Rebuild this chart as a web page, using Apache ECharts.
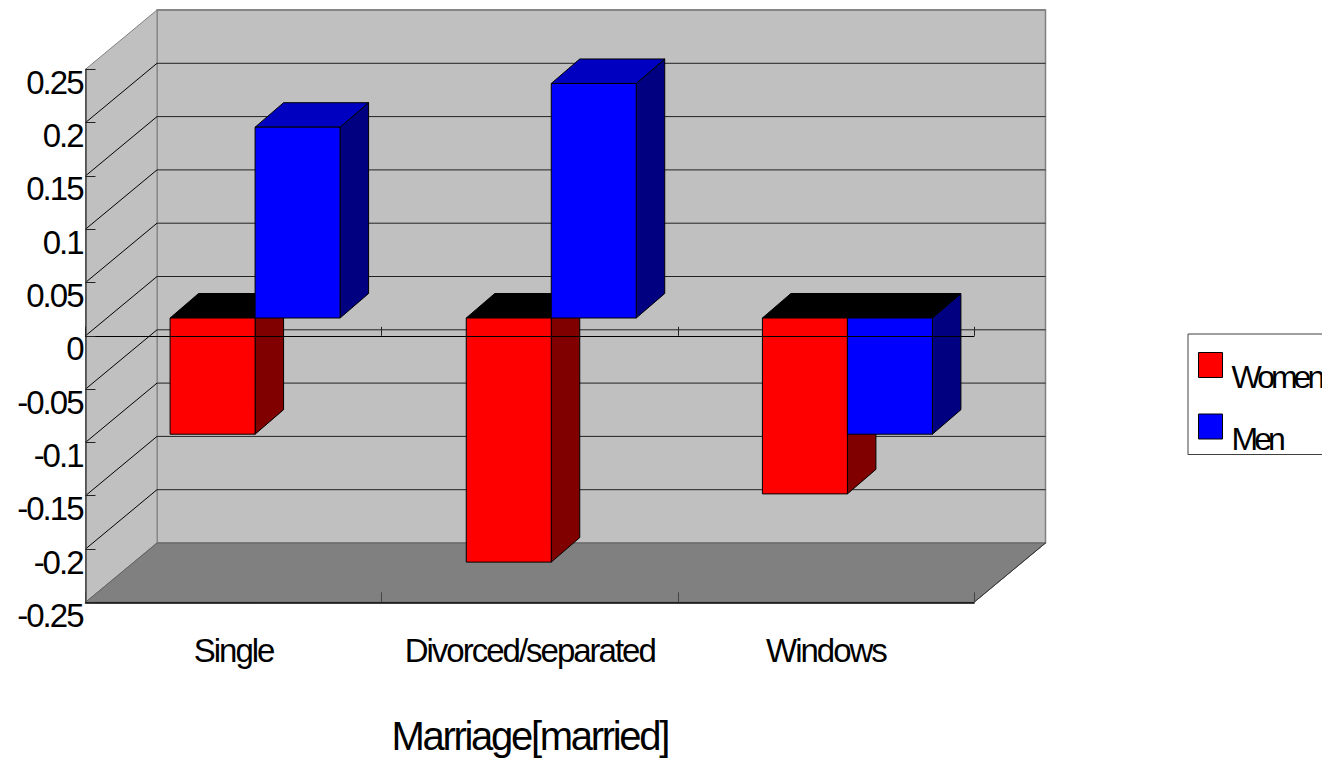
<!DOCTYPE html>
<html>
<head>
<meta charset="utf-8">
<title>Marriage[married]</title>
<script src="https://cdn.jsdelivr.net/npm/echarts@6/dist/echarts.min.js"></script>
<style>
html,body{margin:0;padding:0;background:#fff;overflow:hidden}
#chart{width:1322px;height:761px}
/* the source renders its text squeezed together */
svg text{letter-spacing:-2px}
svg text[style*="40px"]{letter-spacing:-2.3px}
svg text[style*="32px"]{letter-spacing:-4px}
</style>
</head>
<body>
<div id="chart"></div>
<script>
var categories = ['Single', 'Divorced/separated', 'Windows']
var women = [-0.109, -0.229, -0.165]
var men = [0.179, 0.22, -0.109]
var yTicks = [0.25, 0.2, 0.15, 0.1, 0.05, 0, -0.05, -0.1, -0.15, -0.2, -0.25]

// fake 3d: how far the back wall and the bars are pushed, in px
var wallDx = 71.5, wallDy = -59.3
var barDx = 21.5, barDy = -17.8
var sideDx = 28.5, sideDy = -24.5
var barShare = 0.287
var font = '"Liberation Sans", Arial, sans-serif'

function poly(points, fill, stroke, lineWidth){
	return {
		type:'polygon',
		shape:{points:points},
		style:{fill:fill, stroke:stroke, lineWidth:lineWidth||1}
	}
}
function line(a, b, color, width){
	return {
		type:'line',
		shape:{x1:a[0], y1:a[1], x2:b[0], y2:b[1]},
		style:{stroke:color, lineWidth:width||1}
	}
}
function back(p){
	return [p[0]+wallDx, p[1]+wallDy]
}

function renderWalls(params, api){
	var children = []
	var band = api.size([1,0])[0]
	var xLeft = api.coord([0,0])[0]-band/2
	var xRight = api.coord([categories.length-1,0])[0]+band/2
	var yTop = api.coord([0,yTicks[0]])[1]
	var yBottom = api.coord([0,yTicks[yTicks.length-1]])[1]
	var fl = [xLeft,yTop], bl = [xLeft,yBottom], br = [xRight,yBottom], tr = [xRight,yTop]
	// back wall, left wall, floor
	children.push(poly([back(fl),back(tr),back(br),back(bl)],'#c0c0c0','#808080',1.5))
	children.push(poly([fl,back(fl),back(bl),bl],'#c0c0c0','#808080',1))
	children.push(poly([bl,back(bl),back(br),br],'#808080','#606060',1))
	yTicks.slice(1,-1).forEach(function(v){
		var y = api.coord([0,v])[1]
		var a = [xLeft,y], b = back(a)
		children.push(line(a,b,'#000',1))
		children.push(line(b,[xRight+wallDx,y+wallDy],'#222',1))
	})
	children.push(line(back(fl),back(tr),'#808080',1.5))
	children.push(line(br,back(br),'#333',1))
	return {type:'group', children:children}
}

function barRenderer(first, front, side, top){
	return function(params, api){
		var zero = api.coord([api.value(0),0])
		var end = api.coord([api.value(0),api.value(1)])
		var band = api.size([1,0])[0]
		var x0 = zero[0]+barDx+(first ? -barShare*band : 0)
		var x1 = x0+barShare*band
		var y0 = zero[1]+barDy
		var y1 = end[1]+barDy
		var up = Math.min(y0,y1), down = Math.max(y0,y1)
		var topColor = api.value(1)>0 ? top : '#000'
		return {type:'group', children:[
			poly([[x1,up],[x1+sideDx,up+sideDy],[x1+sideDx,down+sideDy],[x1,down]],side,'#000'),
			poly([[x0,up],[x0+sideDx,up+sideDy],[x1+sideDx,up+sideDy],[x1,up]],topColor,'#000'),
			poly([[x0,up],[x1,up],[x1,down],[x0,down]],front,'#000')
		]}
	}
}

var myChart = echarts.init(document.getElementById('chart'), null, {renderer:'svg'})
var option = {
	animation:false,
	backgroundColor:'#fff',
	textStyle:{fontFamily:font, color:'#000'},
	grid:{left:85.5, top:69.3, width:888.5, height:533, outerBoundsMode:'none'},
	legend:{
		data:['Women','Men'],
		orient:'vertical',
		left:1188,
		top:334,
		icon:'rect',
		itemWidth:24,
		itemHeight:25,
		itemGap:9.5,
		padding:[7,40,0,10],
		borderColor:'#404040',
		borderWidth:1,
		itemStyle:{borderColor:'#000',borderWidth:1},
		formatter:'{t|{name}}',
		textStyle:{
			fontFamily:font,
			color:'#000',
			rich:{t:{fontFamily:font, fontSize:32, color:'#000', lineHeight:28, padding:[20,0,-4,4]}}
		}
	},
	xAxis:[{
		type:'category',
		data:categories,
		z:10,
		axisLine:{onZero:true, lineStyle:{color:'#000',width:1}},
		axisTick:{show:true, inside:true, length:9, lineStyle:{color:'#222'}},
		axisLabel:{show:false}
	},{
		type:'category',
		data:categories,
		position:'bottom',
		z:10,
		axisLine:{onZero:false, lineStyle:{color:'#000',width:1.5}},
		axisTick:{show:true, inside:true, length:10, lineStyle:{color:'#444'}},
		axisLabel:{fontFamily:font, fontSize:33, color:'#000', margin:32, interval:0, hideOverlap:false},
		name:'Marriage[married]',
		nameLocation:'middle',
		nameGap:114,
		nameTextStyle:{fontFamily:font, fontSize:40, color:'#000'}
	}],
	yAxis:{
		type:'value',
		min:-0.25,
		max:0.25,
		interval:0.05,
		z:10,
		axisLine:{show:true, lineStyle:{color:'#444',width:1.5}},
		axisTick:{show:true, inside:true, length:10, lineStyle:{color:'#222'}},
		axisLabel:{fontFamily:font, fontSize:33, color:'#000', margin:3, verticalAlign:'top', lineHeight:26},
		splitLine:{show:false}
	},
	series:[{
		name:'walls',
		type:'custom',
		silent:true,
		z:1,
		data:[[0,0]],
		encode:{x:0,y:1},
		renderItem:renderWalls
	},{
		name:'Women',
		type:'custom',
		z:2,
		itemStyle:{color:'#f00'},
		data:women.map(function(v,i){return [i,v]}),
		encode:{x:0,y:1},
		renderItem:barRenderer(true,'#f00','#800000','#c00000')
	},{
		name:'Men',
		type:'custom',
		z:3,
		itemStyle:{color:'#00f'},
		data:men.map(function(v,i){return [i,v]}),
		encode:{x:0,y:1},
		renderItem:barRenderer(false,'#00f','#000080','#0000c0')
	}]
}
myChart.setOption(option)
window.onresize = function () {
	myChart.resize()
}
</script>
</body>
</html>
